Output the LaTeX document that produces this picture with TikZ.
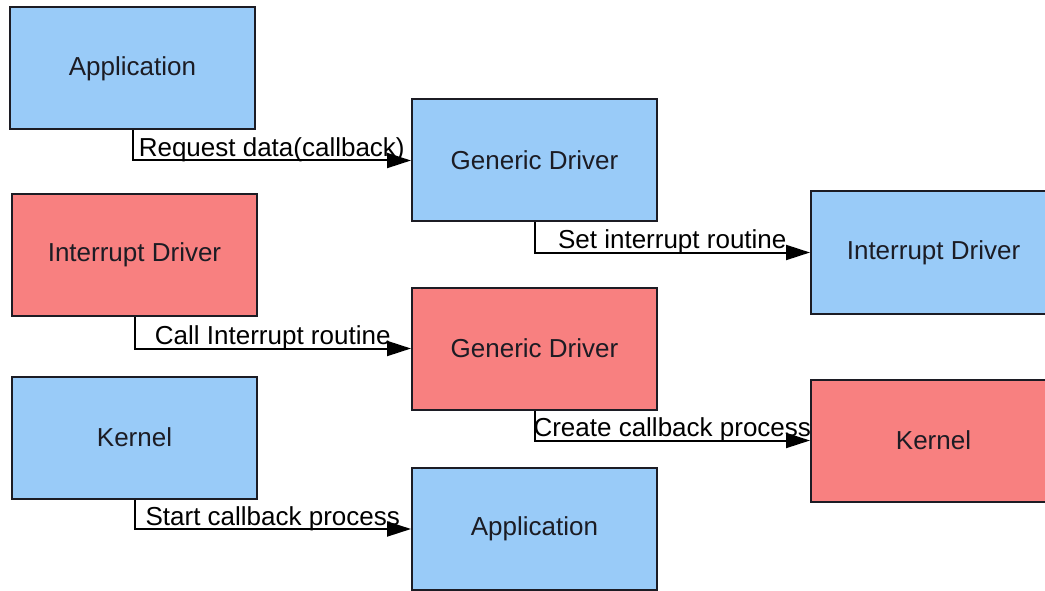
\documentclass[tikz,border=0pt]{standalone}
\usepackage{fontspec}
\setmainfont{Liberation Sans}
\usetikzlibrary{arrows.meta}
\definecolor{boxblue}{HTML}{99CBF8}
\definecolor{boxred}{HTML}{F88080}
\definecolor{edge}{HTML}{1C1C24}
\begin{document}
\begin{tikzpicture}[x=1pt,y=-1pt,
  box/.style={draw=edge, line width=2pt, minimum width=245pt, minimum height=122pt,
    inner sep=0pt, font=\fontsize{26}{30}\selectfont, text=edge},
  bluebox/.style={box, fill=boxblue},
  redbox/.style={box, fill=boxred},
  conn/.style={draw=black, line width=2pt, -{Triangle[length=24pt,width=15pt]}},
  lbl/.style={anchor=base, yshift=4pt, inner sep=0pt, font=\fontsize{26}{30}\selectfont, text=black}]
\useasboundingbox (0,0) rectangle (1045,591);
\fill[white] (0,0) rectangle (1045,591);
\clip (0,0) rectangle (1045,591);
\node[bluebox] (app1) at (132.5,68.5) {Application};
\node[bluebox] (gd1) at (534.5,160.5) {Generic Driver};
\node[bluebox] (idb) at (933.5,252.5) {Interrupt Driver};
\node[redbox] (idr) at (134.5,255) {Interrupt Driver};
\node[redbox] (gdr) at (534.5,348.5) {Generic Driver};
\node[redbox] (kr) at (933.5,440.5) {Kernel};
\node[bluebox] (kb) at (134.5,437.5) {Kernel};
\node[bluebox] (app2) at (534.5,529) {Application};
\draw[conn] (app1.south) |- (gd1.west) node[pos=0.75, lbl] {Request data(callback)};
\draw[conn] (gd1.south) |- (idb.west) node[pos=0.75, lbl] {Set interrupt routine};
\draw[conn] (idr.south) |- (gdr.west) node[pos=0.75, lbl] {Call Interrupt routine};
\draw[conn] (gdr.south) |- (kr.west) node[pos=0.75, lbl] {Create callback process};
\draw[conn] (kb.south) |- (app2.west) node[pos=0.75, lbl] {Start callback process};
\end{tikzpicture}
\end{document}
